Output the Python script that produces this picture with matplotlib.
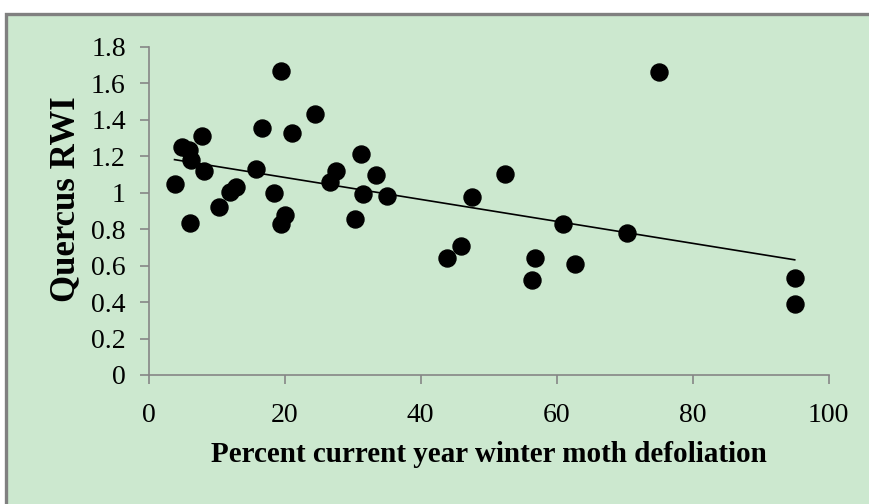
import matplotlib.pyplot as plt
import matplotlib.patches as mpatches
import numpy as np

plt.rcParams['font.family'] = ['Liberation Serif', 'DejaVu Serif']

# percent defoliation vs Quercus ring width index
defol = [19.5, 24.4, 7.8, 16.7, 21.1, 4.85, 5.97, 6.2, 8.1, 3.8, 15.8,
         11.96, 12.8, 10.3, 6.07, 18.5, 19.4, 20.1, 31.2, 27.5, 26.7,
         33.4, 31.5, 30.3, 35.0, 75.1, 47.5, 52.4, 45.9, 43.8, 56.8,
         56.4, 61.0, 62.7, 70.3, 95.0, 95.0]
rwi = [1.67, 1.43, 1.31, 1.357, 1.327, 1.25, 1.235, 1.18, 1.12, 1.05, 1.13,
       1.003, 1.034, 0.92, 0.833, 1.0, 0.83, 0.88, 1.215, 1.12, 1.06,
       1.096, 0.993, 0.854, 0.984, 1.663, 0.979, 1.103, 0.71, 0.642, 0.64,
       0.52, 0.83, 0.607, 0.781, 0.534, 0.388]

xticks = [0, 20, 40, 60, 80, 100]
yticks = [0, 0.2, 0.4, 0.6, 0.8, 1, 1.2, 1.4, 1.6, 1.8]
ytick_labels = ['0', '0.2', '0.4', '0.6', '0.8', '1', '1.2', '1.4', '1.6', '1.8']

bg = '#cce8cf'
grey = '#868686'

fig = plt.figure(figsize=(8.7, 5.04), dpi=100)
fig.patch.set_facecolor('white')

# chart-area box behind everything
back = fig.add_axes([0, 0, 1, 1], zorder=-10)
back.axis('off')
back.set_xlim(0, 1)
back.set_ylim(0, 1)
back.add_patch(mpatches.Rectangle((6 / 870, -0.05), 1.0, 1 - 14 / 504 + 0.05,
                                  facecolor=bg, edgecolor='#808080', linewidth=2.4))

ax = fig.add_axes([148.7 / 870, 129 / 504, 680 / 870, 328 / 504])
ax.set_facecolor('none')

ax.scatter(defol, rwi, s=150, color='black', zorder=3)

slope, icpt = np.polyfit(defol, rwi, 1)
xs = np.array([min(defol), max(defol)])
ax.plot(xs, icpt + slope * xs, color='black', linewidth=1.2, zorder=2)

ax.set_xlim(0, 100)
ax.set_ylim(0, 1.8)
ax.set_xticks(xticks)
ax.set_yticks(yticks)
ax.set_yticklabels(ytick_labels)

for side in ['top', 'right']:
    ax.spines[side].set_visible(False)
for side in ['left', 'bottom']:
    ax.spines[side].set_color(grey)
    ax.spines[side].set_linewidth(1.2)

ax.tick_params(axis='both', direction='out', length=6.5, width=1.2,
               color=grey, labelsize=20, labelcolor='black')
ax.tick_params(axis='x', pad=14)
ax.tick_params(axis='y', pad=10)

ax.set_xlabel('Percent current year winter moth defoliation',
              fontsize=21, fontweight='bold')
ax.xaxis.set_label_coords(0.501, -0.201)
ax.set_ylabel('Quercus RWI', fontsize=25, fontweight='bold')
ax.yaxis.set_label_coords(-0.098, 0.535)

fig.savefig('out.png', dpi=100, facecolor=fig.get_facecolor())
